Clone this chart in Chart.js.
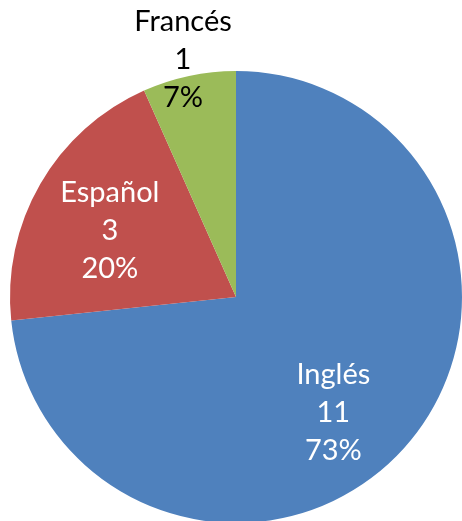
<!DOCTYPE html>
<html>
<head>
<meta charset="utf-8">
<script src="https://cdn.jsdelivr.net/npm/chart.js@4"></script>
<style>
  html, body { margin: 0; padding: 0; background: #fff; overflow: hidden; }
  #wrap { position: absolute; left: 0; top: 0; width: 462px; height: 523px; }
</style>
</head>
<body>
<div id="wrap"><canvas id="chart"></canvas></div>
<script>
const languages = ['Inglés', 'Español', 'Francés'];
const counts = [11, 3, 1];
const sliceColors = ['#4F81BD', '#C0504D', '#9BBB59'];
const labelColors = ['#ffffff', '#ffffff', '#000000'];

// where each label block sits: angle (deg, clockwise from top) and fraction of radius
const labelSpots = [
    { angle: 140, frac: 0.67 },
    { angle: 297.6, frac: 0.63 },
    { angle: 347.4, frac: 1.075 }
];

const total = counts.reduce((a, b) => a + b, 0);

// draws "name / value / percent" in three lines, like the original
const sliceLabels = {
    id: 'sliceLabels',
    afterDraw(chart) {
        const ctx = chart.ctx;
        const arc = chart.getDatasetMeta(0).data[0];
        const cx = arc.x, cy = arc.y, r = arc.outerRadius;
        ctx.save();
        ctx.font = '29px Lato';
        ctx.textAlign = 'center';
        ctx.textBaseline = 'middle';
        counts.forEach((v, i) => {
            const a = labelSpots[i].angle * Math.PI / 180;
            const d = labelSpots[i].frac * r;
            const x = cx + d * Math.sin(a);
            const y = cy - d * Math.cos(a);
            const pct = Math.round(v / total * 100) + '%';
            const lines = [languages[i], String(v), pct];
            ctx.fillStyle = labelColors[i];
            lines.forEach((t, k) => {
                ctx.fillText(t, x, y + (k - 1) * 38);
            });
        });
        ctx.restore();
    }
};

new Chart(document.getElementById('chart'), {
    type: 'pie',
    data: {
        labels: languages,
        datasets: [{
            data: counts,
            backgroundColor: sliceColors,
            borderWidth: 0
        }]
    },
    options: {
        responsive: true,
        maintainAspectRatio: false,
        animation: false,
        layout: { padding: { left: 10, top: 71, right: 0, bottom: 0 } },
        plugins: {
            legend: { display: false },
            tooltip: { enabled: false }
        }
    },
    plugins: [sliceLabels]
});
</script>
</body>
</html>
